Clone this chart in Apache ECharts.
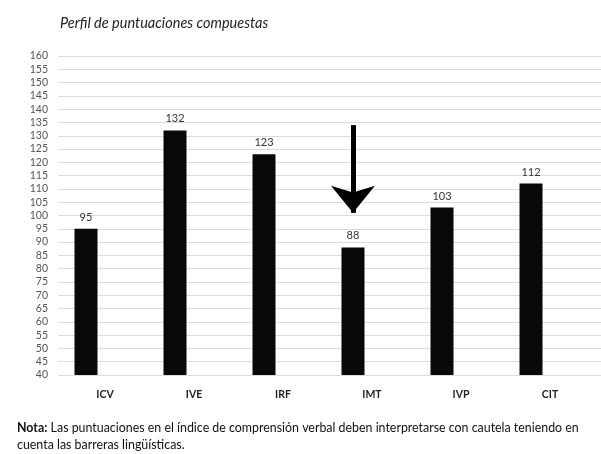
<!DOCTYPE html>
<html>
<head>
<meta charset="utf-8">
<script src="https://cdn.jsdelivr.net/npm/echarts@6/dist/echarts.min.js"></script>
<style>html,body{margin:0;padding:0;background:#fff;}#c{width:601px;height:454px;}</style>
</head>
<body>
<div id="c"></div>
<script>
const categories = ['ICV', 'IVE', 'IRF', 'IMT', 'IVP', 'CIT'];
const scores = [95, 132, 123, 88, 103, 112];
const yMin = 40, yMax = 160, yStep = 5;
const arrowCategory = 'IMT';
const arrowFrom = 134, arrowTo = 101;
const titleText = 'Perfil de puntuaciones compuestas';
const noteLabel = 'Nota:';
const noteLine1 = ' Las puntuaciones en el índice de comprensión verbal deben interpretarse con cautela teniendo en';
const noteLine2 = 'cuenta las barreras lingüísticas.';

const FONT = 'Lato, "Open Sans", sans-serif';
const chart = echarts.init(document.getElementById('c'), null, {renderer: 'canvas'});
chart.setOption({
  backgroundColor: '#ffffff',
  animation: false,
  title: [
    {
      text: titleText, left: 55, top: 11,
      textStyle: {fontFamily: FONT, fontSize: 14.5, fontStyle: 'italic', fontWeight: 'normal', color: '#222'}
    },
    {
      text: '{b|' + noteLabel + '}{n|' + noteLine1 + '}\n{n|' + noteLine2 + '}',
      left: 12, top: 414,
      textStyle: {
        fontFamily: FONT, fontSize: 12.4, fontWeight: 'normal', color: '#111', lineHeight: 17,
        rich: {
          b: {fontFamily: FONT, fontSize: 12.4, fontWeight: 'bold', color: '#111', lineHeight: 17},
          n: {fontFamily: FONT, fontSize: 12.4, fontWeight: 'normal', color: '#111', lineHeight: 17}
        }
      }
    }
  ],
  grid: [
    {left: 58, right: 0, top: 56, bottom: 79},
    {left: 41.5, right: 25.5, top: 56, bottom: 79}
  ],
  xAxis: [
    {type: 'category', gridIndex: 0, data: categories, show: false},
    {
      type: 'category', gridIndex: 1, data: categories,
      axisLine: {show: false}, axisTick: {show: false},
      axisLabel: {
        fontFamily: FONT, fontSize: 10.5, fontWeight: 'bold', color: '#222',
        margin: 14, padding: [0, 0, 0, 38]
      }
    }
  ],
  yAxis: [
    {
      type: 'value', gridIndex: 0, min: yMin, max: yMax, interval: yStep,
      axisLine: {show: false}, axisTick: {show: false},
      axisLabel: {fontFamily: FONT, fontSize: 10.5, color: '#555', margin: 10},
      splitLine: {show: true, lineStyle: {color: '#dcdcdc', width: 1}}
    },
    {
      type: 'value', gridIndex: 1, min: yMin, max: yMax, interval: yStep,
      show: false, splitLine: {show: false}
    }
  ],
  series: [
    {
      type: 'bar', xAxisIndex: 1, yAxisIndex: 1, data: scores,
      barWidth: 23,
      itemStyle: {color: '#080808'},
      label: {show: true, position: 'top', distance: 6, fontFamily: FONT, fontSize: 11, color: '#333'},
      markLine: {
        silent: true,
        symbol: ['none', 'arrow'],
        symbolSize: [33, 27],
        label: {show: false},
        lineStyle: {color: '#000', width: 5, type: 'solid'},
        data: [[
          {coord: [arrowCategory, arrowFrom]},
          {coord: [arrowCategory, arrowTo]}
        ]]
      }
    }
  ]
});
</script>
</body>
</html>
